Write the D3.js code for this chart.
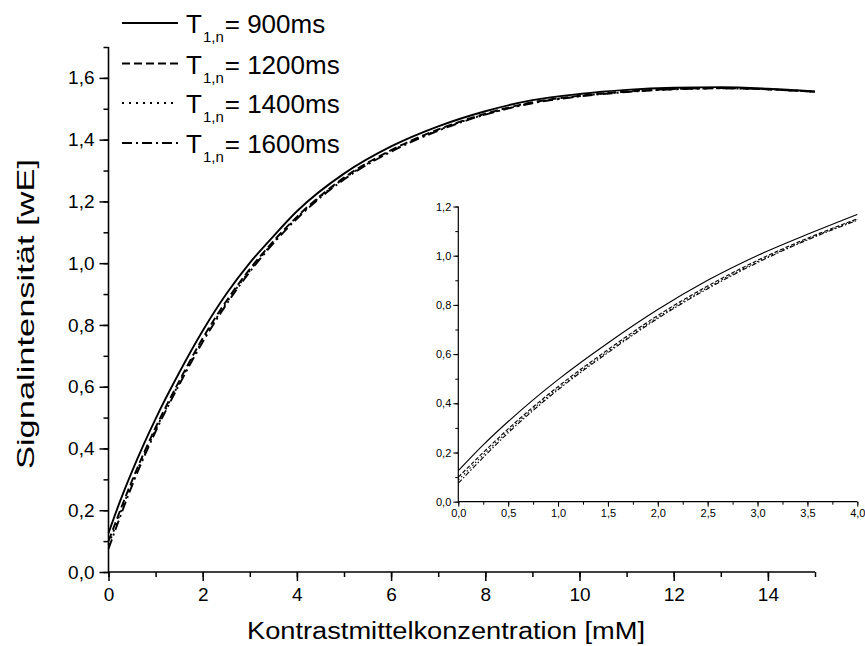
<!DOCTYPE html>
<html>
<head>
<meta charset="utf-8">
<script src="https://cdn.jsdelivr.net/npm/d3@7/dist/d3.min.js"></script>
<style>
  body { margin: 0; background: #fff; }
  svg { display: block; font-family: "Liberation Sans", Arial, sans-serif; }
</style>
</head>
<body>
<svg id="chart" width="865" height="646"></svg>
<script>
// ---- data ----
const conc = [0, 0.25, 0.5, 0.75, 1, 1.5, 2, 2.5, 3, 3.5, 4, 5, 6, 7, 8, 9, 10, 11, 12, 13, 14, 15];
const s900  = [0.126, 0.231, 0.326, 0.414, 0.496, 0.645, 0.781, 0.900, 1.001, 1.087, 1.168, 1.290, 1.378, 1.443, 1.492, 1.528, 1.548, 1.561, 1.568, 1.570, 1.565, 1.556];
const s1200 = [0.100, 0.200, 0.296, 0.385, 0.468, 0.618, 0.757, 0.877, 0.981, 1.071, 1.150, 1.277, 1.366, 1.433, 1.484, 1.521, 1.542, 1.556, 1.564, 1.567, 1.563, 1.555];
const s1400 = [0.088, 0.190, 0.288, 0.378, 0.461, 0.611, 0.750, 0.871, 0.976, 1.067, 1.147, 1.274, 1.363, 1.431, 1.482, 1.519, 1.541, 1.555, 1.563, 1.566, 1.563, 1.555];
const s1600 = [0.075, 0.180, 0.280, 0.371, 0.455, 0.606, 0.745, 0.866, 0.972, 1.064, 1.144, 1.271, 1.361, 1.429, 1.481, 1.518, 1.540, 1.554, 1.563, 1.566, 1.563, 1.555];
const seriesNames = ["900ms", "1200ms", "1400ms", "1600ms"];
const seriesValues = [s900, s1200, s1400, s1600];
const mainXTicks = [0, 2, 4, 6, 8, 10, 12, 14];
const mainYTicks = [0, 0.2, 0.4, 0.6, 0.8, 1.0, 1.2, 1.4, 1.6];
const insetXTicks = [0, 0.5, 1, 1.5, 2, 2.5, 3, 3.5, 4];
const insetYTicks = [0, 0.2, 0.4, 0.6, 0.8, 1.0, 1.2];
const xTitle = "Kontrastmittelkonzentration [mM]";
const yTitle = "Signalintensität [wE]";

// ---- styles ----
const dashes = [null, "8,4", "2,5", "10,4,2,4"];
const insetDashes = [null, "4,2", "1.5,2.5", "5,2,1.5,2"];
const fmt = d3.format(".1f");
const comma = v => fmt(v).replace(".", ",");

const svg = d3.select("#chart");

function axisLayer(g, x, y, opt) {
  const [x0, x1] = x.range();
  const [y0, y1] = y.range();
  g.append("g").attr("transform", `translate(0,${y0})`)
    .call(d3.axisBottom(x).tickValues(opt.xMinor).tickSize(opt.minorLen).tickFormat(""))
    .call(a => a.select(".domain").remove());
  g.append("g").attr("transform", `translate(${x0},0)`)
    .call(d3.axisLeft(y).tickValues(opt.yMinor).tickSize(opt.minorLen).tickFormat(""))
    .call(a => a.select(".domain").remove());
  const xa = g.append("g").attr("class", "xaxis").attr("transform", `translate(0,${y0})`)
    .call(d3.axisBottom(x).tickValues(opt.xTicks).tickSize(opt.majorLen).tickPadding(opt.xpad).tickFormat(opt.xFmt))
    .call(a => a.select(".domain").remove());
  const ya = g.append("g").attr("transform", `translate(${x0},0)`)
    .call(d3.axisLeft(y).tickValues(opt.yTicks).tickSize(opt.majorLen).tickPadding(opt.pad).tickFormat(comma))
    .call(a => a.select(".domain").remove());
  [xa, ya].forEach(a => {
    a.selectAll("text").attr("font-size", opt.fontSize).attr("fill", "#000")
      .attr("font-family", '"Liberation Sans", Arial, sans-serif');
  });
  g.selectAll(".tick line").attr("stroke", "#000").attr("stroke-width", opt.tickW);
  g.append("line").attr("x1", x0).attr("x2", x1).attr("y1", y0).attr("y2", y0)
    .attr("stroke", "#000").attr("stroke-width", opt.axisW);
  g.append("line").attr("x1", x0).attr("x2", x0).attr("y1", y0).attr("y2", y1)
    .attr("stroke", "#000").attr("stroke-width", opt.axisW);
}

// ---- main chart ----
const x = d3.scaleLinear().domain([0, 15]).range([108.5, 815]);
const y = d3.scaleLinear().domain([0, 1.7]).range([572, 47]);
const main = svg.append("g");
axisLayer(main, x, y, {
  xTicks: mainXTicks, yTicks: mainYTicks,
  xMinor: d3.range(0, 15.01, 1), yMinor: d3.range(0, 1.701, 0.1),
  majorLen: 9, minorLen: 5, pad: 5, xpad: 7, fontSize: 19, tickW: 1.5, axisW: 1.6,
  xFmt: d3.format("d")
});

const line = d3.line().x((d, i) => x(conc[i])).y(d => y(d)).curve(d3.curveMonotoneX);
seriesValues.forEach((vals, k) => {
  main.append("path").attr("d", line(vals)).attr("fill", "none").attr("stroke", "#000")
    .attr("stroke-width", 1.9).attr("stroke-dasharray", dashes[k]);
});

svg.append("text").attr("x", 446).attr("y", 639).attr("text-anchor", "middle")
  .attr("font-size", 23).attr("textLength", 398).attr("lengthAdjust", "spacingAndGlyphs").text(xTitle);
svg.append("text").attr("transform", "translate(34,314) rotate(-90)").attr("text-anchor", "middle")
  .attr("font-size", 24).attr("textLength", 310).attr("lengthAdjust", "spacingAndGlyphs").text(yTitle);

// ---- legend ----
const legY = [23, 63.5, 103, 143];
seriesNames.forEach((name, k) => {
  svg.append("line").attr("x1", 122).attr("x2", 178).attr("y1", legY[k]).attr("y2", legY[k])
    .attr("stroke", "#000").attr("stroke-width", 1.9).attr("stroke-dasharray", dashes[k]);
  const t = svg.append("text").attr("x", 186).attr("y", legY[k] + 10).attr("font-size", 26);
  t.append("tspan").text("T");
  t.append("tspan").attr("font-size", 15).attr("dy", 9).attr("dx", 1).text("1,n");
  t.append("tspan").attr("dy", -9).attr("dx", 1).text("= " + name);
});

// ---- inset ----
const xi = d3.scaleLinear().domain([0, 4]).range([458.3, 857.3]);
const yi = d3.scaleLinear().domain([0, 1.2]).range([501.7, 206.5]);
const inset = svg.append("g");
axisLayer(inset, xi, yi, {
  xTicks: insetXTicks, yTicks: insetYTicks,
  xMinor: d3.range(0, 4.01, 0.25), yMinor: d3.range(0, 1.201, 0.1),
  majorLen: 5, minorLen: 3, pad: 2, xpad: 3, fontSize: 11, tickW: 1, axisW: 1.2,
  xFmt: comma
});
const nIn = conc.filter(c => c <= 4).length;
const lineI = d3.line().x((d, i) => xi(conc[i])).y(d => yi(d)).curve(d3.curveMonotoneX);
seriesValues.forEach((vals, k) => {
  inset.append("path").attr("d", lineI(vals.slice(0, nIn))).attr("fill", "none").attr("stroke", "#000")
    .attr("stroke-width", 1.1).attr("stroke-dasharray", insetDashes[k]);
});
</script>
</body>
</html>
